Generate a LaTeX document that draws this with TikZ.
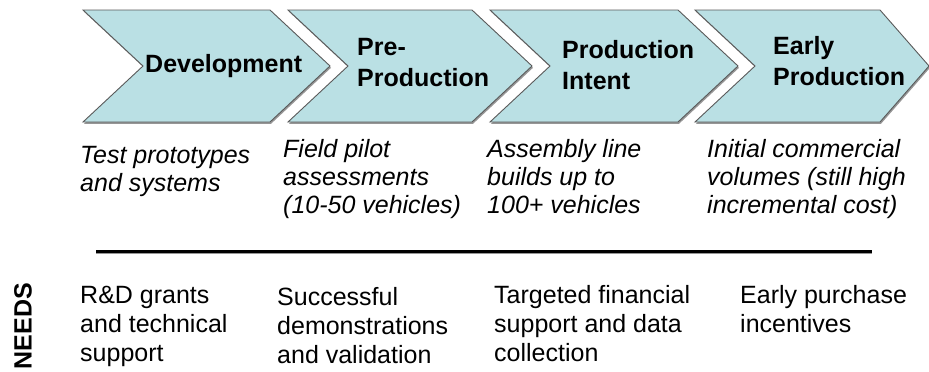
\documentclass[tikz,border=0pt]{standalone}
\usepackage{fontspec}
\setmainfont{Liberation Sans}
\definecolor{chevfill}{RGB}{186,224,228}
\definecolor{chevline}{RGB}{90,90,90}
\definecolor{shadowgray}{RGB}{150,150,150}
\begin{document}
\begin{tikzpicture}[x=1pt,y=-1pt,
  chev/.style={fill=chevfill,draw=chevline,line width=0.9pt,line join=miter},
  chevshadow/.style={fill=shadowgray,draw=none},
  phase/.style={font=\fontsize{25}{31}\selectfont\bfseries,align=left,inner sep=0pt,anchor=north west},
  desc/.style={font=\fontsize{25}{28.3}\selectfont\itshape,align=left,inner sep=0pt,anchor=north west},
  need/.style={font=\fontsize{25}{29}\selectfont,align=left,inner sep=0pt,anchor=north west},
  rule/.style={line width=3pt,black}
]
\useasboundingbox (0,0) rectangle (929,372);

% chevron outline: top-left x, top-right x, tip x
\newcommand{\chevpath}[3]{(#1,10) -- (#2,10) -- (#3,66) -- (#2,122) -- (#1,122) -- (#1+60,66) -- cycle}

% drop shadows
\foreach \l/\r/\t in {83/270/330,288/472/532,490/678/738,695/880/929}
  \fill[chevshadow] [shift={(1,1.8)}] \chevpath{\l}{\r}{\t};
% chevrons
\foreach \l/\r/\t in {83/270/330,288/472/532,490/678/738,695/880/929}
  \draw[chev] \chevpath{\l}{\r}{\t};

% phase names
\node[phase,anchor=base west] (dev) at (145,72) {Development};
\node[phase] (pre) at (357,34) {\strut Pre-\\Production};
\node[phase] (intent) at (562,36.5) {\strut Production\\Intent};
\node[phase] (early) at (773,32.5) {\strut Early\\Production};

% what each phase involves
\node[desc] (d1) at (80,143.2) {\strut Test prototypes\\and systems};
\node[desc] (d2) at (283,137.2) {\strut Field pilot\\assessments\\(10-50 vehicles)};
\node[desc] (d3) at (487,137.2) {\strut Assembly line\\builds up to\\100+ vehicles};
\node[desc] (d4) at (707,137.2) {\strut Initial commercial\\volumes (still high\\incremental cost)};

% separator
\coordinate (ruleL) at (96,251);
\coordinate (ruleR) at (872,251);
\draw[line width=3pt,shadowgray] ([yshift=-1.5pt]ruleL) -- ([yshift=-1.5pt]ruleR);
\draw[rule] (ruleL) -- (ruleR);

% needs
\node[font=\fontsize{25}{29}\selectfont\bfseries,rotate=90,inner sep=0pt] (needs) at (23,326) {NEEDS};
\node[need] (n1) at (80,282.7) {\strut R\&D grants\\and technical\\support};
\node[need] (n2) at (277,284.7) {\strut Successful\\demonstrations\\and validation};
\node[need] (n3) at (494,282.7) {\strut Targeted financial\\support and data\\collection};
\node[need] (n4) at (740,282.7) {\strut Early purchase\\incentives};
\end{tikzpicture}
\end{document}
